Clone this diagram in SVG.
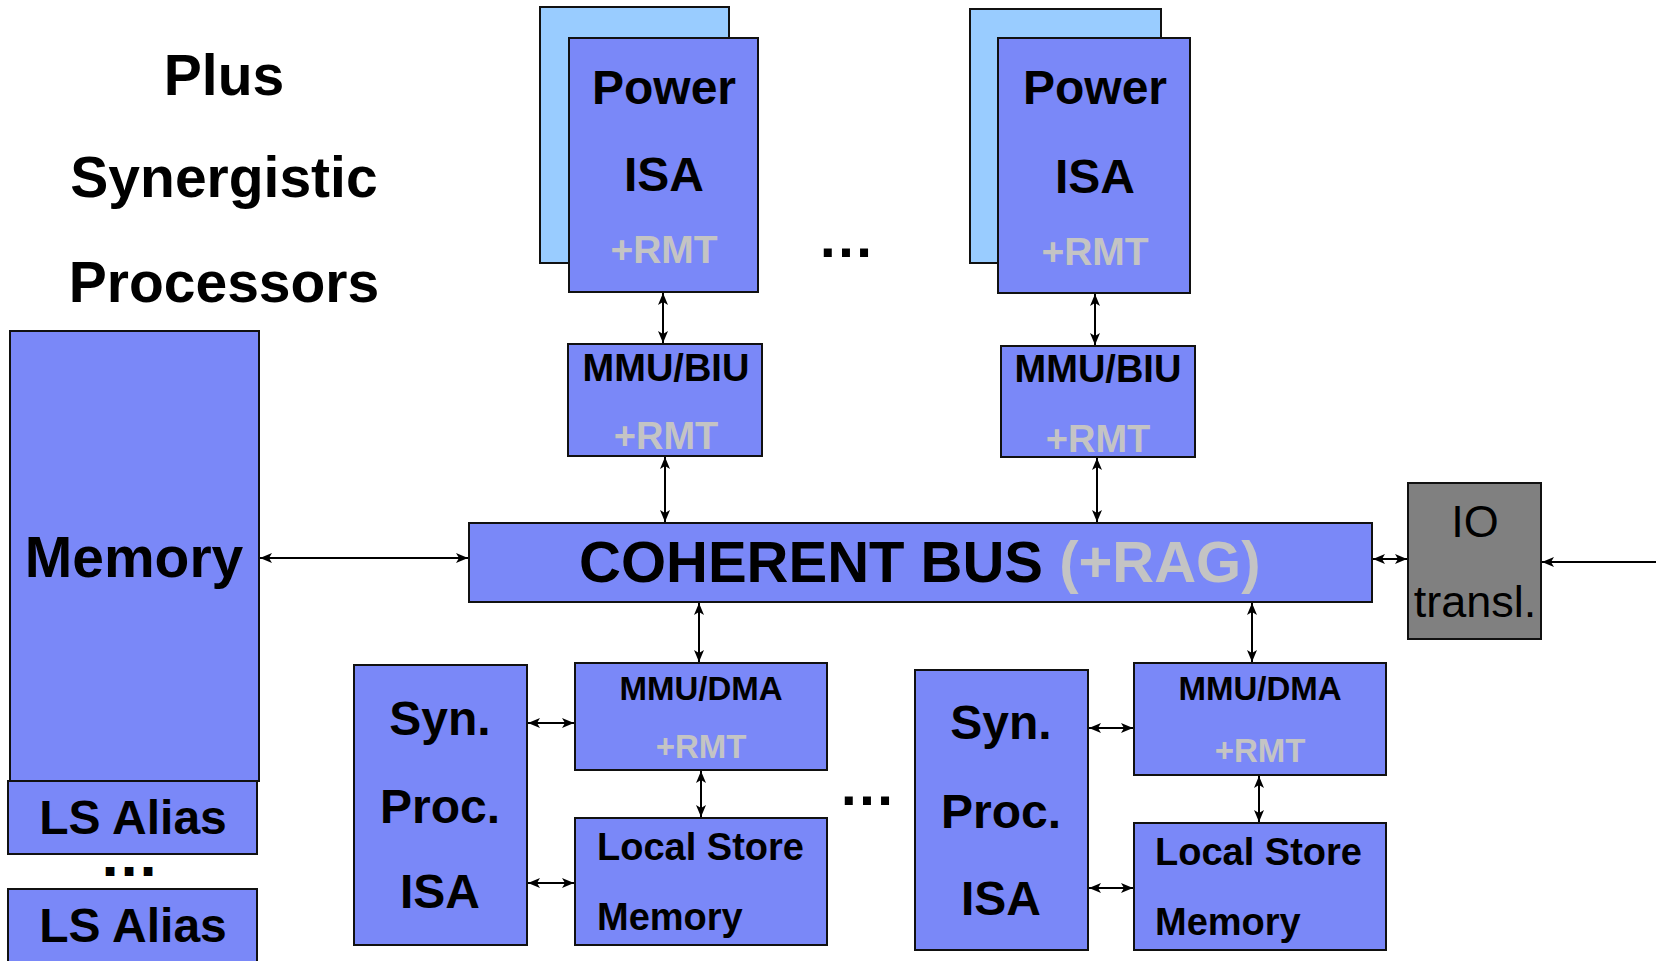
<svg xmlns="http://www.w3.org/2000/svg" width="1662" height="961" viewBox="0 0 1662 961">
  <defs>
    <style>
      .box { fill: #7A88F8; stroke: #111; stroke-width: 2; }
      .back { fill: #99CCFF; stroke: #111; stroke-width: 2; }
      .io { fill: #808080; stroke: #111; stroke-width: 2; }
      .t { font-family: "Liberation Sans", Arial, sans-serif; font-weight: bold; fill: #000; text-anchor: middle; }
      .reg { font-family: "Liberation Sans", Arial, sans-serif; font-weight: normal; fill: #000; text-anchor: middle; }
      .ls { text-anchor: start; }
      .rmt { fill: #C4C4C4; }
      .link { stroke: #000; stroke-width: 2; fill: none; }
      .both { marker-start: url(#head); marker-end: url(#head); }
      .one { marker-end: url(#head); }
    </style>
    <marker id="head" viewBox="0 0 12 10" refX="12" refY="5" markerWidth="12" markerHeight="10" markerUnits="userSpaceOnUse" orient="auto-start-reverse">
      <path d="M0,0 L12,5 L0,10 L3,5 z" fill="#000"/>
    </marker>
  </defs>

  <rect width="1662" height="961" fill="#fff"/>

  <!-- heading -->
  <g id="title">
    <text class="t" x="224" y="95" font-size="57">Plus</text>
    <text class="t" x="224" y="197" font-size="57">Synergistic</text>
    <text class="t" x="224" y="302" font-size="57">Processors</text>
  </g>

  <!-- PowerPC cores -->
  <g id="power1">
    <rect class="back" x="540" y="7" width="189" height="256"/>
    <rect class="box" x="569" y="38" width="189" height="254"/>
    <text class="t" x="664" y="104" font-size="48">Power</text>
    <text class="t" x="664" y="191" font-size="48">ISA</text>
    <text class="t rmt" x="664" y="263" font-size="39">+RMT</text>
  </g>
  <g id="power2">
    <rect class="back" x="970" y="9" width="191" height="254"/>
    <rect class="box" x="998" y="38" width="192" height="255"/>
    <text class="t" x="1095" y="104" font-size="48">Power</text>
    <text class="t" x="1095" y="193" font-size="48">ISA</text>
    <text class="t rmt" x="1095" y="265" font-size="39">+RMT</text>
  </g>
  <g id="dots-top">
    <text class="t" x="846" y="257" font-size="57">…</text>
  </g>

  <g id="mmubiu1">
    <rect class="box" x="568" y="344" width="194" height="112"/>
    <text class="t" x="666" y="381" font-size="38">MMU/BIU</text>
    <text class="t rmt" x="666" y="449" font-size="38">+RMT</text>
  </g>
  <g id="mmubiu2">
    <rect class="box" x="1001" y="346" width="194" height="111"/>
    <text class="t" x="1098" y="382" font-size="38">MMU/BIU</text>
    <text class="t rmt" x="1098" y="452" font-size="38">+RMT</text>
  </g>

  <!-- system bus -->
  <g id="bus">
    <rect class="box" x="469" y="523" width="903" height="79"/>
    <text class="t ls" x="579" y="582" font-size="58">COHERENT BUS <tspan class="rmt">(+RAG)</tspan></text>
  </g>

  <g id="io">
    <rect class="io" x="1408" y="483" width="133" height="156"/>
    <text class="reg" x="1475" y="537" font-size="45">IO</text>
    <text class="reg" x="1475" y="617" font-size="45">transl.</text>
  </g>

  <!-- main memory with local store aliases -->
  <g id="memory">
    <rect class="box" x="10" y="331" width="249" height="450"/>
    <text class="t" x="134" y="577" font-size="57">Memory</text>
  </g>
  <g id="lsalias1">
    <rect class="box" x="8" y="781" width="249" height="73"/>
    <text class="t" x="133" y="834" font-size="48">LS Alias</text>
  </g>
  <g id="dots-alias">
    <!-- small font, dots thickened with a stroke so they stay clear of both labels -->
    <text class="t ls" x="105.5" y="874" font-size="33" letter-spacing="9.8" stroke="#000" stroke-width="4" stroke-linejoin="miter">...</text>
  </g>
  <g id="lsalias2">
    <rect class="box" x="8" y="889" width="249" height="90"/>
    <text class="t" x="133" y="942" font-size="48">LS Alias</text>
  </g>

  <!-- synergistic processor elements -->
  <g id="syn1">
    <rect class="box" x="354" y="665" width="173" height="280"/>
    <text class="t" x="440" y="735" font-size="48">Syn.</text>
    <text class="t" x="440" y="823" font-size="48">Proc.</text>
    <text class="t" x="440" y="908" font-size="48">ISA</text>
  </g>
  <g id="mmudma1">
    <rect class="box" x="575" y="663" width="252" height="107"/>
    <text class="t" x="701" y="700" font-size="33">MMU/DMA</text>
    <text class="t rmt" x="701" y="758" font-size="33">+RMT</text>
  </g>
  <g id="ls1">
    <rect class="box" x="575" y="818" width="252" height="127"/>
    <text class="t ls" x="597" y="860" font-size="38">Local Store</text>
    <text class="t ls" x="597" y="930" font-size="38">Memory</text>
  </g>
  <g id="dots-spe">
    <text class="t" x="867" y="805" font-size="57">…</text>
  </g>
  <g id="syn2">
    <rect class="box" x="915" y="670" width="173" height="280"/>
    <text class="t" x="1001" y="739" font-size="48">Syn.</text>
    <text class="t" x="1001" y="828" font-size="48">Proc.</text>
    <text class="t" x="1001" y="915" font-size="48">ISA</text>
  </g>
  <g id="mmudma2">
    <rect class="box" x="1134" y="663" width="252" height="112"/>
    <text class="t" x="1260" y="700" font-size="33">MMU/DMA</text>
    <text class="t rmt" x="1260" y="762" font-size="33">+RMT</text>
  </g>
  <g id="ls2">
    <rect class="box" x="1134" y="823" width="252" height="127"/>
    <text class="t ls" x="1155" y="865" font-size="38">Local Store</text>
    <text class="t ls" x="1155" y="935" font-size="38">Memory</text>
  </g>

  <!-- connectors -->
  <g id="connectors" class="link">
    <line class="both" x1="663" y1="293" x2="663" y2="343"/>
    <line class="both" x1="1095" y1="294" x2="1095" y2="345"/>
    <line class="both" x1="665" y1="457" x2="665" y2="522"/>
    <line class="both" x1="1097" y1="458" x2="1097" y2="522"/>
    <line class="both" x1="260" y1="558" x2="468" y2="558"/>
    <line class="both" x1="1373" y1="559" x2="1407" y2="559"/>
    <line class="one" x1="1656" y1="562" x2="1542" y2="562"/>
    <line class="both" x1="699" y1="603" x2="699" y2="662"/>
    <line class="both" x1="1252" y1="603" x2="1252" y2="662"/>
    <line class="both" x1="528" y1="723" x2="574" y2="723"/>
    <line class="both" x1="528" y1="883" x2="574" y2="883"/>
    <line class="both" x1="701" y1="771" x2="701" y2="817"/>
    <line class="both" x1="1089" y1="728" x2="1133" y2="728"/>
    <line class="both" x1="1089" y1="888" x2="1133" y2="888"/>
    <line class="both" x1="1259" y1="776" x2="1259" y2="822"/>
  </g>
</svg>
